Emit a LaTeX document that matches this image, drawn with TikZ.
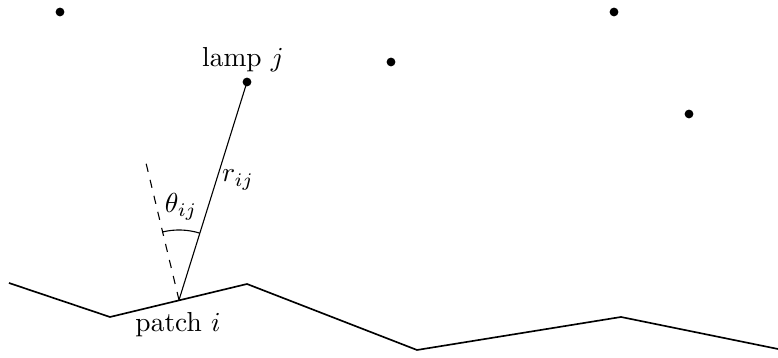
\documentclass[tikz,border=0pt]{standalone}
\usetikzlibrary{calc}

\begin{document}
\begin{tikzpicture}[x=0.364pt, y=0.364pt,
  lamp/.style={fill, circle, inner sep=0pt, minimum size=3.2pt},
  ground/.style={semithick}]
  % 画布 778 x 358 (像素单位), 原点在左下角
  \useasboundingbox (0,0) rectangle (778,358);
  % 地面折线
  \coordinate (G1) at (9,75);
  \coordinate (G2) at (110,41);
  \coordinate (G3) at (247,74);
  \coordinate (G4) at (417,8);
  \coordinate (G5) at (621,41);
  \coordinate (G6) at (778,9);
  \draw[ground] (G1)--(G2)--(G3)--(G4)--(G5)--(G6);
  % patch i 在 G2G3 上, 法向 = G2G3 旋转 90°
  \coordinate (P) at (179,58);
  \coordinate (N) at (146,195);
  % 灯
  \node[lamp] (Lj) at (247,276) {};
  \node[lamp] (L1) at (60,346) {};
  \node[lamp] (L2) at (391,296) {};
  \node[lamp] (L3) at (614,346) {};
  \node[lamp] (L4) at (689,244) {};
  \draw (P)--(Lj.center);
  \draw[dashed] (P)--(N);
  % 角 theta: 法向 103.5°, 指向灯 72.7°
  \draw ($(P)+(72.7:70)$) arc[start angle=72.7, end angle=103.5, radius=70];
  \node (theta) at (181,151) {$\theta_{ij}$};
  \node (r) at (238,178) {$r_{ij}$};
  \node (lampj) at (243,298) {lamp $j$};
  \node (patch) at (178,33) {patch $i$};
\end{tikzpicture}
\end{document}
